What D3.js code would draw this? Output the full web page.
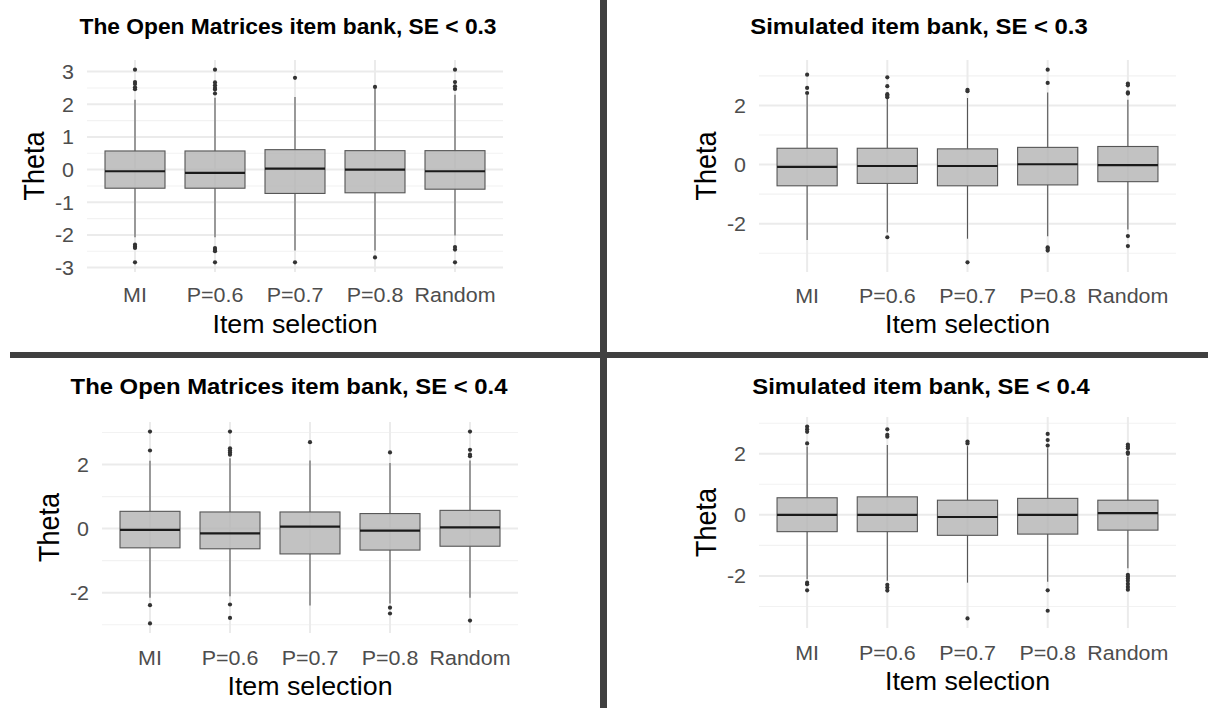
<!DOCTYPE html>
<html>
<head>
<meta charset="utf-8">
<script src="https://cdn.jsdelivr.net/npm/d3@7"></script>
<style>
  html, body { margin: 0; padding: 0; background: #ffffff; }
  svg { display: block; }
  text { font-family: "Liberation Sans", Arial, Helvetica, sans-serif; }
</style>
</head>
<body>
<div id="chart"></div>
<script>
// ---------------- DATA ----------------
const categories = ["MI", "P=0.6", "P=0.7", "P=0.8", "Random"];
const panelTitles = [
  "The Open Matrices item bank, SE < 0.3",
  "Simulated item bank, SE < 0.3",
  "The Open Matrices item bank, SE < 0.4",
  "Simulated item bank, SE < 0.4"
];
const xAxisTitle = "Item selection";
const yAxisTitle = "Theta";
const yTicksOM03 = [-3, -2, -1, 0, 1, 2, 3];
const yTicksOther = [-2, 0, 2];

// Open Matrices, SE < 0.3
const om03Low = [-2.07, -2.07, -2.48, -2.48, -2.02];
const om03Q1 = [-0.57, -0.57, -0.73, -0.71, -0.60];
const om03Median = [-0.05, -0.10, 0.03, 0.00, -0.05];
const om03Q3 = [0.57, 0.57, 0.61, 0.58, 0.58];
const om03High = [2.14, 2.20, 2.22, 2.48, 2.29];
const om03Outliers = [
  [3.06, 2.68, 2.62, 2.52, 2.46, -2.30, -2.36, -2.40, -2.84],
  [3.06, 2.67, 2.58, 2.50, 2.45, 2.33, -2.40, -2.46, -2.50, -2.84],
  [2.81, -2.84],
  [2.53, -2.69],
  [3.06, 2.68, 2.55, 2.47, -2.37, -2.45, -2.84]
];

// Simulated, SE < 0.3
const sim03Low = [-2.55, -2.30, -2.51, -2.43, -2.20];
const sim03Q1 = [-0.72, -0.64, -0.72, -0.69, -0.58];
const sim03Median = [-0.08, -0.05, -0.05, 0.01, -0.02];
const sim03Q3 = [0.55, 0.55, 0.53, 0.58, 0.61];
const sim03High = [2.35, 2.25, 2.25, 2.44, 2.19];
const sim03Outliers = [
  [3.04, 2.59, 2.42],
  [2.95, 2.65, 2.38, 2.33, 2.28, -2.46],
  [2.53, 2.48, -3.31],
  [3.21, 2.76, -2.80, -2.85, -2.91],
  [2.74, 2.68, 2.44, 2.40, -2.42, -2.76]
];

// Open Matrices, SE < 0.4
const om04Low = [-2.16, -2.11, -2.40, -2.34, -2.16];
const om04Q1 = [-0.60, -0.63, -0.79, -0.67, -0.55];
const om04Median = [-0.04, -0.15, 0.06, -0.06, 0.04];
const om04Q3 = [0.54, 0.52, 0.52, 0.47, 0.57];
const om04High = [2.12, 2.20, 2.13, 2.05, 2.13];
const om04Outliers = [
  [3.03, 2.44, -2.39, -2.96],
  [3.03, 2.51, 2.44, 2.38, 2.31, -2.37, -2.79],
  [2.70],
  [2.38, -2.47, -2.65],
  [3.03, 2.46, 2.31, 2.26, -2.87]
];

// Simulated, SE < 0.4
const sim04Low = [-2.11, -2.16, -2.22, -2.19, -1.75];
const sim04Q1 = [-0.55, -0.55, -0.67, -0.63, -0.50];
const sim04Median = [0.00, 0.00, -0.07, 0.00, 0.06];
const sim04Q3 = [0.56, 0.59, 0.48, 0.54, 0.48];
const sim04High = [2.24, 2.29, 2.25, 2.18, 1.90];
const sim04Outliers = [
  [2.89, 2.80, 2.72, 2.34, -2.22, -2.27, -2.47],
  [2.80, 2.62, 2.56, -2.29, -2.38, -2.48],
  [2.40, 2.34, -3.39],
  [2.65, 2.45, 2.27, -2.47, -3.14],
  [2.30, 2.24, 2.18, 2.05, 2.00, -1.96, -2.02, -2.08, -2.16, -2.26, -2.36, -2.45]
];

// ---------------- LAYOUT ----------------
const W = 1208, H = 708;
const SX_TICK = 1.1, SX_AXT = 1.03;

const panels = [
  { title: panelTitles[0], low: om03Low, q1: om03Q1, med: om03Median, q3: om03Q3, high: om03High, out: om03Outliers, ticks: yTicksOM03,
    x0: 87, x1: 503, y0: 60, y1: 272, titleX: 288, titleY: 34, titleSX: 1.06, thetaX: 44, xtickY: 302, xlabY: 333 },
  { title: panelTitles[1], low: sim03Low, q1: sim03Q1, med: sim03Median, q3: sim03Q3, high: sim03High, out: sim03Outliers, ticks: yTicksOther,
    x0: 759, x1: 1176, y0: 60, y1: 272, titleX: 919, titleY: 34, titleSX: 1.11, thetaX: 716, xtickY: 303, xlabY: 333 },
  { title: panelTitles[2], low: om04Low, q1: om04Q1, med: om04Median, q3: om04Q3, high: om04High, out: om04Outliers, ticks: yTicksOther,
    x0: 102, x1: 518, y0: 422, y1: 633, titleX: 289, titleY: 394, titleSX: 1.11, thetaX: 59, xtickY: 665, xlabY: 695 },
  { title: panelTitles[3], low: sim04Low, q1: sim04Q1, med: sim04Median, q3: sim04Q3, high: sim04High, out: sim04Outliers, ticks: yTicksOther,
    x0: 759, x1: 1176, y0: 417, y1: 628, titleX: 921, titleY: 394, titleSX: 1.11, thetaX: 716, xtickY: 660, xlabY: 690 }
];

const svg = d3.select("#chart").append("svg")
  .attr("width", W).attr("height", H)
  .attr("viewBox", `0 0 ${W} ${H}`);

svg.append("rect").attr("width", W).attr("height", H).attr("fill", "#ffffff");

function drawPanel(p) {
  const g = svg.append("g");

  const x = d3.scaleBand().domain(categories).range([p.x0, p.x1])
    .paddingInner(0.25).paddingOuter(0.225);
  const allVals = p.low.concat(p.high, p.out.flat());
  const mn = d3.min(allVals), mx = d3.max(allVals);
  const pad = (mx - mn) * 0.05;
  const y = d3.scaleLinear().domain([mn - pad, mx + pad]).range([p.y1, p.y0]);

  const cx = c => x(c) + x.bandwidth() / 2;

  // minor gridlines (midpoints between major ticks, within range)
  const step = p.ticks[1] - p.ticks[0];
  const minor = [];
  for (let v = p.ticks[0] - step / 2; v <= p.ticks[p.ticks.length - 1] + step / 2 + 1e-9; v += step) {
    if (v >= y.domain()[0] && v <= y.domain()[1]) minor.push(v);
  }
  g.append("g").selectAll("line").data(minor).join("line")
    .attr("x1", p.x0).attr("x2", p.x1)
    .attr("y1", d => y(d)).attr("y2", d => y(d))
    .attr("stroke", "#f2f2f2").attr("stroke-width", 1.1);

  // major y gridlines
  g.append("g").selectAll("line").data(p.ticks).join("line")
    .attr("x1", p.x0).attr("x2", p.x1)
    .attr("y1", d => y(d)).attr("y2", d => y(d))
    .attr("stroke", "#ebebeb").attr("stroke-width", 2);

  // major x gridlines
  g.append("g").selectAll("line").data(categories).join("line")
    .attr("x1", d => cx(d)).attr("x2", d => cx(d))
    .attr("y1", p.y0).attr("y2", p.y1)
    .attr("stroke", "#ebebeb").attr("stroke-width", 2);

  const idx = categories.map((c, i) => i);

  // whiskers
  const wg = g.append("g");
  wg.selectAll("line.up").data(idx).join("line").attr("class", "up")
    .attr("x1", i => cx(categories[i])).attr("x2", i => cx(categories[i]))
    .attr("y1", i => y(p.q3[i])).attr("y2", i => y(p.high[i]))
    .attr("stroke", "#555555").attr("stroke-width", 1.1);
  wg.selectAll("line.dn").data(idx).join("line").attr("class", "dn")
    .attr("x1", i => cx(categories[i])).attr("x2", i => cx(categories[i]))
    .attr("y1", i => y(p.q1[i])).attr("y2", i => y(p.low[i]))
    .attr("stroke", "#555555").attr("stroke-width", 1.1);

  // boxes
  g.append("g").selectAll("rect").data(idx).join("rect")
    .attr("x", i => x(categories[i]))
    .attr("width", x.bandwidth())
    .attr("y", i => y(p.q3[i]))
    .attr("height", i => y(p.q1[i]) - y(p.q3[i]))
    .attr("fill", "#b3b3b3").attr("fill-opacity", 0.8)
    .attr("stroke", "#555555").attr("stroke-width", 1.1);

  // medians
  g.append("g").selectAll("line").data(idx).join("line")
    .attr("x1", i => x(categories[i])).attr("x2", i => x(categories[i]) + x.bandwidth())
    .attr("y1", i => y(p.med[i])).attr("y2", i => y(p.med[i]))
    .attr("stroke", "#1a1a1a").attr("stroke-width", 2.2);

  // outliers
  const pts = [];
  p.out.forEach((arr, i) => arr.forEach(v => pts.push({ c: categories[i], v })));
  g.append("g").selectAll("circle").data(pts).join("circle")
    .attr("cx", d => cx(d.c)).attr("cy", d => y(d.v)).attr("r", 2.1)
    .attr("fill", "#333333");

  // y axis
  const yAxis = g.append("g").attr("transform", `translate(${p.x0},0)`)
    .call(d3.axisLeft(y).tickValues(p.ticks).tickSize(0).tickPadding(13).tickFormat(d => String(d)));
  yAxis.select(".domain").remove();
  yAxis.selectAll("text")
    .attr("x", -13 / SX_TICK)
    .attr("dy", "0.36em")
    .attr("transform", `scale(${SX_TICK},1)`)
    .attr("fill", "#4d4d4d")
    .style("font-size", "19.5px")
    .style("font-family", "'Liberation Sans', Arial, sans-serif");

  // x axis
  const xAxis = g.append("g").attr("transform", `translate(0,${p.y1})`)
    .call(d3.axisBottom(x).tickSize(0));
  xAxis.select(".domain").remove();
  xAxis.selectAll(".tick").each(function () {
    const t = d3.select(this);
    const tr = t.attr("transform");
    const tx = +tr.match(/translate\(([-\d.]+)/)[1];
    t.attr("transform", `translate(${tx},0) scale(${SX_TICK},1)`);
  });
  xAxis.selectAll("text")
    .attr("y", p.xtickY - p.y1)
    .attr("dy", 0)
    .attr("fill", "#4d4d4d")
    .style("font-size", "19.5px")
    .style("font-family", "'Liberation Sans', Arial, sans-serif");

  // axis titles
  g.append("text")
    .attr("transform", `translate(${(p.x0 + p.x1) / 2},${p.xlabY}) scale(${SX_AXT},1)`)
    .attr("text-anchor", "middle")
    .attr("fill", "#000000")
    .style("font-size", "26px")
    .text(xAxisTitle);
  g.append("text")
    .attr("transform", `translate(${p.thetaX},${(p.y0 + p.y1) / 2}) scale(1.08,1) rotate(-90)`)
    .attr("text-anchor", "middle")
    .attr("fill", "#000000")
    .style("font-size", "27px")
    .text(yAxisTitle);

  // title
  g.append("text")
    .attr("transform", `translate(${p.titleX},${p.titleY}) scale(${p.titleSX},1)`)
    .attr("text-anchor", "middle")
    .attr("fill", "#000000")
    .style("font-size", "21.5px")
    .style("font-weight", "bold")
    .text(p.title);
}

panels.forEach(drawPanel);

// separators between the four images
svg.append("rect").attr("x", 600).attr("y", 0).attr("width", 7).attr("height", H).attr("fill", "#404040");
svg.append("rect").attr("x", 10).attr("y", 352).attr("width", W - 10).attr("height", 6).attr("fill", "#404040");
</script>
</body>
</html>
